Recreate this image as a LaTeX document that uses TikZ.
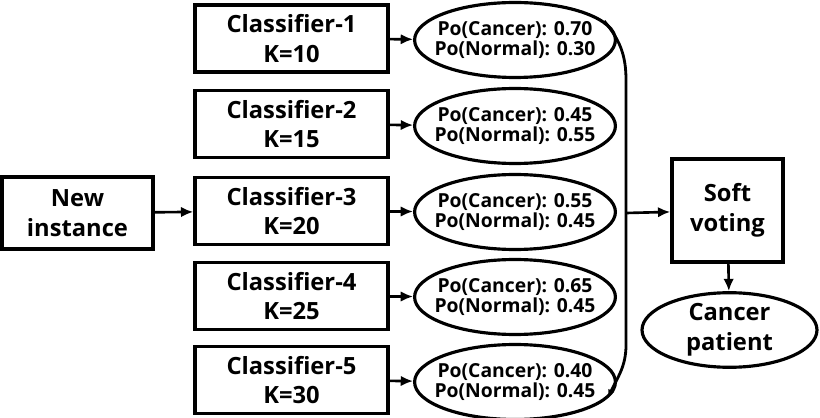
\documentclass[tikz,border=0pt]{standalone}
\usepackage{fontspec}
\setmainfont{Open Sans}
\usetikzlibrary{arrows.meta}
\usetikzlibrary{shapes.geometric}
\usetikzlibrary{positioning}
\pgfdeclarelayer{nodelayer}
\pgfdeclarelayer{edgelayer}
\pgfsetlayers{edgelayer,nodelayer,main}
\tikzstyle{none}=[inner sep=0pt]
\tikzset{box/.style={draw, line width=2pt, inner sep=0pt, align=center,
minimum width=3.86cm, minimum height=1.34cm,
font=\bfseries\fontsize{13.5}{17}\selectfont}}
\tikzset{prob/.style={draw, ellipse, line width=1.8pt, inner ysep=0pt, inner xsep=-0.19cm, align=center,
minimum width=3.88cm, minimum height=1.5cm,
font=\bfseries\fontsize{11}{11.5}\selectfont}}
\tikzset{arr/.style={line width=1.5pt, -{Latex[length=7pt,width=6pt]}}}

\begin{document}
\begin{tikzpicture}[x=0.02cm, y=-0.02cm]
        \useasboundingbox (0,0) rectangle (820,418);
        \begin{pgfonlayer}{nodelayer}
            \node [style=box, minimum width=3.02cm, minimum height=1.44cm] (0) at (77.5, 213) {New\\instance};
            \node [style=box] (1) at (291.5, 38.5) {Classifier-1\\K=10};
            \node [style=box] (2) at (291.5, 124) {Classifier-2\\K=15};
            \node [style=box] (3) at (291.5, 211) {Classifier-3\\K=20};
            \node [style=box] (4) at (291.5, 296) {Classifier-4\\K=25};
            \node [style=box] (5) at (291.5, 380) {Classifier-5\\K=30};
            \node [style=prob] (6) at (515, 40) {Po(Cancer): 0.70\\Po(Normal): 0.30};
            \node [style=prob] (7) at (515, 126) {Po(Cancer): 0.45\\Po(Normal): 0.55};
            \node [style=prob] (8) at (515, 212) {Po(Cancer): 0.55\\Po(Normal): 0.45};
            \node [style=prob] (9) at (515, 297) {Po(Cancer): 0.65\\Po(Normal): 0.45};
            \node [style=prob] (10) at (515, 382) {Po(Cancer): 0.40\\Po(Normal): 0.45};
            \node [style=none] (11) at (626, 80) {};
            \node [style=none] (12) at (626, 213) {};
            \node [style=none] (13) at (626, 345) {};
            \node [style=box, minimum width=2.22cm, minimum height=2.06cm] (14) at (727.5, 210.5) {Soft\\voting};
            \node [style=prob, minimum width=3.5cm, minimum height=1.48cm, font=\bfseries\fontsize{13.5}{17}\selectfont] (15) at (729.5, 330) {Cancer\\patient};
        \end{pgfonlayer}
        \begin{pgfonlayer}{edgelayer}
            \draw [style=arr] (0) to (3);
            \draw [style=arr] (1) to (6);
            \draw [style=arr] (2) to (7);
            \draw [style=arr] (3) to (8);
            \draw [style=arr] (4) to (9);
            \draw [style=arr] (5) to (10);
            \draw [line width=1.6pt, -{Latex[length=5pt,width=4pt]}] (6.12) to [out=-50, in=90] (11.center) to (13.center) to [out=-90, in=65] (10.-10);
            \draw [style=arr] (12.center) to (14);
            \draw [style=arr] (14) to (15);
        \end{pgfonlayer}
\end{tikzpicture}
\end{document}
